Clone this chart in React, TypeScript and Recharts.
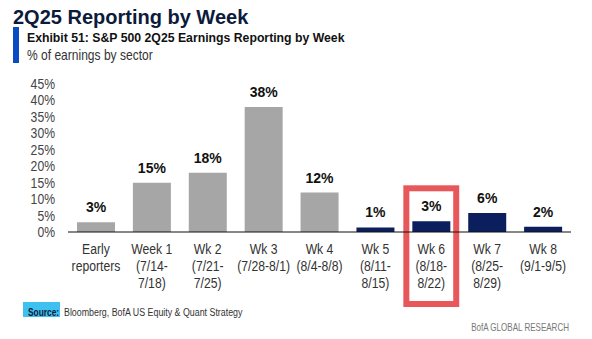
import React from 'react';
import { BarChart, Bar, XAxis, YAxis, Cell, LabelList, ReferenceArea } from 'recharts';

const weeks = ['Early', 'Week 1', 'Wk 2', 'Wk 3', 'Wk 4', 'Wk 5', 'Wk 6', 'Wk 7', 'Wk 8'];
const dateLines = [
  ['reporters'],
  ['(7/14-', '7/18)'],
  ['(7/21-', '7/25)'],
  ['(7/28-8/1)'],
  ['(8/4-8/8)'],
  ['(8/11-', '8/15)'],
  ['(8/18-', '8/22)'],
  ['(8/25-', '8/29)'],
  ['(9/1-9/5)'],
];
// % of S&P 500 earnings reported in each week
const earningsPct = [3, 15, 18, 38, 12, 1.4, 3.3, 5.8, 1.6];
const yTicks = [0, 5, 10, 15, 20, 25, 30, 35, 40, 45];
const reportedWeeks = 5; // first five weeks already reported (grey)
const highlightWeek = 'Wk 6';

const GREY = '#a6a6a6';
const NAVY = '#0b1f5e';
const FONT = "'Liberation Sans', Arial, sans-serif";

const data = weeks.map((w, i) => ({ week: w, pct: earningsPct[i] }));

// text squeezed horizontally, the source uses a condensed face
function Squeezed({ x, y, sx, anchor = 'start', children, ...rest }: any) {
  return (
    <g transform={`translate(${x},${y}) scale(${sx},1)`}>
      <text x={0} y={0} textAnchor={anchor} fontFamily={FONT} {...rest}>
        {children}
      </text>
    </g>
  );
}

function XTick({ x, y, payload }: any) {
  const i = weeks.indexOf(payload.value);
  const lines = [payload.value, ...(dateLines[i] || [])];
  return (
    <g transform={`translate(${x},${y}) scale(0.87,1)`}>
      <text textAnchor="middle" fontSize={14} fill="#333" fontFamily={FONT}>
        {lines.map((l, k) => (
          <tspan key={k} x={0} y={22 + k * 17}>
            {l}
          </tspan>
        ))}
      </text>
    </g>
  );
}

function YTick({ x, y, payload }: any) {
  return (
    <g transform={`translate(${x},${y}) scale(0.87,1)`}>
      <text textAnchor="end" dy="0.36em" fontSize={14} fill="#444" fontFamily={FONT}>
        {payload.value}%
      </text>
    </g>
  );
}

function HighlightBox(props: any) {
  const { x, y, width, height } = props;
  return (
    <rect
      x={x + 3}
      y={y + 3}
      width={width - 6}
      height={height - 6}
      fill="none"
      stroke="#e8585a"
      strokeWidth={6}
    />
  );
}

export default function App() {
  return (
    <div
      style={{
        position: 'absolute',
        left: 0,
        top: 0,
        width: 592,
        height: 339,
        background: '#fff',
        fontFamily: FONT,
      }}
    >
      <BarChart
        width={592}
        height={339}
        data={data}
        margin={{ top: 84, right: 21, bottom: 47, left: 0 }}
        barSize={38}
      >
        <YAxis
          width={68}
          domain={[0, 45]}
          ticks={yTicks}
          interval={0}
          allowDataOverflow
          axisLine={false}
          tickLine={false}
          tickSize={0}
          tickMargin={13}
          tick={<YTick />}
        />
        <XAxis
          dataKey="week"
          height={60}
          interval={0}
          tickLine={false}
          tickSize={0}
          tickMargin={0}
          axisLine={{ stroke: '#111', strokeWidth: 1.2 }}
          tick={<XTick />}
        />
        <Bar dataKey="pct" isAnimationActive={false}>
          {data.map((d, i) => (
            <Cell key={d.week} fill={i < reportedWeeks ? GREY : NAVY} />
          ))}
          <LabelList
            dataKey="pct"
            position="top"
            offset={10}
            formatter={(v: any) => `${Math.round(Number(v))}%`}
            fill="#111"
            fontSize={14}
            fontWeight="bold"
            fontFamily={FONT}
          />
        </Bar>
        <ReferenceArea
          x1={highlightWeek}
          x2={highlightWeek}
          y1={-22.8}
          y2={14.2}
          ifOverflow="visible"
          shape={<HighlightBox />}
        />
      </BarChart>

      <svg
        width={592}
        height={339}
        style={{ position: 'absolute', left: 0, top: 0, pointerEvents: 'none' }}
      >
        <Squeezed x={13} y={23.5} sx={1} fontSize={20} fontWeight="bold" fill="#0c1a3c">
          2Q25 Reporting by Week
        </Squeezed>
        <rect x={13} y={27} width={6} height={36} fill="#0a4cc4" />
        <Squeezed x={27} y={42} sx={0.943} fontSize={13} fontWeight="bold" fill="#111">
          Exhibit 51: S&amp;P 500 2Q25 Earnings Reporting by Week
        </Squeezed>
        <Squeezed x={27} y={59.5} sx={0.86} fontSize={14} fill="#333">
          % of earnings by sector
        </Squeezed>

        <rect x={23} y={302} width={37} height={15} fill="#3fc1ef" />
        <Squeezed x={28} y={315.5} sx={0.76} fontSize={11} fontWeight="bold" fill="#0c1a3c">
          Source:
        </Squeezed>
        <Squeezed x={64} y={315.5} sx={0.77} fontSize={11.5} fill="#333">
          Bloomberg, BofA US Equity &amp; Quant Strategy
        </Squeezed>
        <Squeezed x={569} y={331} sx={0.73} anchor="end" fontSize={11} fill="#777">
          BofA GLOBAL RESEARCH
        </Squeezed>
      </svg>
    </div>
  );
}
